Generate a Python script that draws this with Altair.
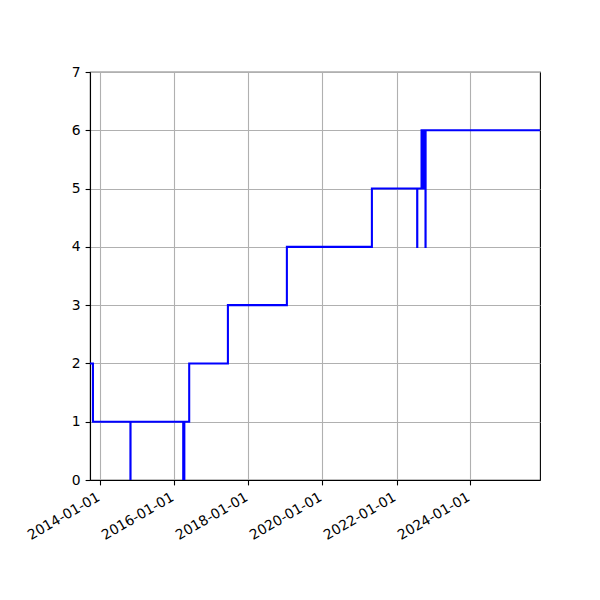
import altair as alt
import pandas as pd

dates = ["2013-09-20", "2013-10-19", "2014-10-24", "2014-10-25", "2016-03-28", "2016-03-29",
         "2016-04-07", "2016-04-08", "2016-05-26", "2017-06-12", "2019-01-15", "2021-05-03",
         "2022-07-24", "2022-07-25", "2022-09-05", "2022-09-13", "2022-09-20", "2022-09-25",
         "2022-10-01", "2022-10-14", "2022-10-15", "2025-11-17"]
values = [2, 1, 0, 1, 0, 1, 0, 1, 2, 3, 4, 5, 4, 5, 6, 5, 6, 5, 6, 4, 6, 6]
tick_years = [2014, 2016, 2018, 2020, 2022, 2024]
y_ticks = [0, 1, 2, 3, 4, 5, 6, 7]

df = pd.DataFrame({"date": dates, "value": values, "order": list(range(len(dates)))})

FONT = "DejaVu Sans"

chart = alt.Chart(df).mark_line(
    interpolate="step-after", color="#0000ff", strokeWidth=2.08, clip=True
).encode(
    x=alt.X("date:T",
            scale=alt.Scale(type="utc",
                            domain=[alt.DateTime(year=2013, month=9, date=20, utc=True),
                                    alt.DateTime(year=2025, month=11, date=17, utc=True)]),
            axis=alt.Axis(values=[alt.DateTime(year=y, month=1, date=1, utc=True) for y in tick_years],
                          format="%Y-%m-%d", labelAngle=-30, labelAlign="right",
                          labelBaseline="top", labelOverlap=False, labelFlush=False,
                          labelBound=False, labelOffset=-5.5, title=None)),
    y=alt.Y("value:Q", scale=alt.Scale(domain=[0, 7], nice=False),
            axis=alt.Axis(values=y_ticks, title=None, labelOverlap=False)),
    order="order:Q",
).properties(
    width=450, height=408,
    autosize=alt.AutoSizeParams(type="none"),
    padding={"left": 82, "top": 64, "right": 52, "bottom": 104},
).configure_view(
    stroke="black", strokeWidth=1.1
).configure_axis(
    labelFont=FONT, labelFontSize=13.9, labelColor="black",
    domainColor="black", domainWidth=1.1,
    tickColor="black", tickWidth=1.1, tickSize=4.9, labelPadding=4.9,
    grid=True, gridColor="#b0b0b0", gridWidth=1.1,
).configure_axisY(
    labelPadding=4.9
)

chart.save("out.html", embed_options={"renderer": "svg", "actions": False})
